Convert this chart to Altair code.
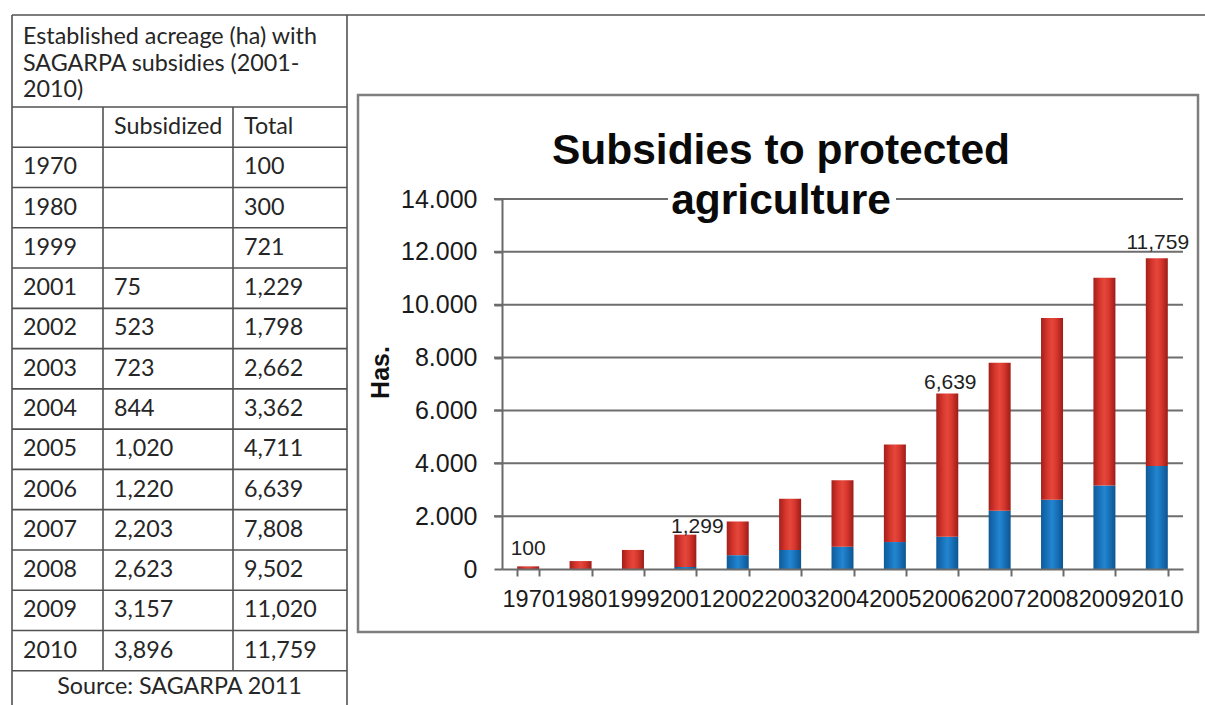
import altair as alt
import pandas as pd

# ---- data -------------------------------------------------------------
years = ["1970", "1980", "1999", "2001", "2002", "2003", "2004",
         "2005", "2006", "2007", "2008", "2009", "2010"]
subsidized = [None, None, None, 75, 523, 723, 844, 1020, 1220, 2203, 2623, 3157, 3896]
table_total = [100, 300, 721, 1229, 1798, 2662, 3362, 4711, 6639, 7808, 9502, 11020, 11759]
chart_total = [100, 300, 721, 1299, 1798, 2662, 3362, 4711, 6639, 7808, 9502, 11020, 11759]
labelled_years = ["1970", "2001", "2006", "2010"]
y_ticks = [0, 2000, 4000, 6000, 8000, 10000, 12000, 14000]

table_title = ["Established acreage (ha) with", "SAGARPA subsidies (2001-", "2010)"]
table_header = ["", "Subsidized", "Total"]
table_source = "Source: SAGARPA 2011"
chart_title = ["Subsidies to protected", "agriculture"]
y_title = "Has."

# ---- layout -----------------------------------------------------------
W, H = 1205, 705
FONT = "Liberation Sans"
TABLE_FONT = "Lato"
TABLE_SIZE = 23.3
INK = "#262626"
LINE = "#525252"

col_edges = [12, 103, 233, 347]           # table column boundaries
row_edges = [15, 107, 711]                # title cell top / header top / bottom of 15 rows
n_rows = 15                               # header + 13 years + source

plot_x = [502, 1183]
plot_y = [569, 199]

tx = alt.Scale(domain=[0, 1, 2, 3], range=col_edges, zero=False, nice=False)
ty = alt.Scale(domain=[0, 1, n_rows + 1], range=row_edges, zero=False, nice=False)
xs = alt.Scale(domain=years, range=plot_x, paddingInner=0.58, paddingOuter=0.29)
ys = alt.Scale(domain=[0, 14000], range=plot_y, zero=False, nice=False)

one = alt.Data(values=[{}])

# ---- table ------------------------------------------------------------
hl = pd.DataFrame({"b": list(range(1, n_rows + 1)), "c0": 0, "c1": 3})
table_h = alt.Chart(hl).mark_rule(color=LINE, strokeWidth=1.6).encode(
    x=alt.X("c0:Q", scale=tx, axis=None),
    x2="c1:Q",
    y=alt.Y("b:Q", scale=ty, axis=None),
)
table_top = alt.Chart(pd.DataFrame({"b": [0], "c0": [0]})).mark_rule(
    color=LINE, strokeWidth=1.6
).encode(
    x=alt.X("c0:Q", scale=tx, axis=None),
    x2=alt.value(W),
    y=alt.Y("b:Q", scale=ty, axis=None),
)
vl = pd.DataFrame({
    "c": [0, 3, 1, 2],
    "b0": [0, 0, 1, 1],
    "b1": [n_rows + 1, n_rows + 1, n_rows, n_rows],
})
table_v = alt.Chart(vl).mark_rule(color=LINE, strokeWidth=1.6).encode(
    x=alt.X("c:Q", scale=tx, axis=None),
    y=alt.Y("b0:Q", scale=ty, axis=None),
    y2="b1:Q",
)

cells = []
for c, txt in enumerate(table_header):
    if txt:
        cells.append({"col": c, "row": 1.5, "text": txt})
for i, yr in enumerate(years):
    r = i + 2.5
    cells.append({"col": 0, "row": r, "text": yr})
    if subsidized[i] is not None:
        cells.append({"col": 1, "row": r, "text": f"{subsidized[i]:,}"})
    cells.append({"col": 2, "row": r, "text": f"{table_total[i]:,}"})
table_text = alt.Chart(pd.DataFrame(cells)).mark_text(
    align="left", baseline="middle", dx=11, fontSize=TABLE_SIZE, font=TABLE_FONT, color=INK
).encode(
    x=alt.X("col:Q", scale=tx, axis=None),
    y=alt.Y("row:Q", scale=ty, axis=None),
    text="text:N",
)
title_cell = alt.Chart(pd.DataFrame({"col": [0], "row": [0]})).mark_text(
    align="left", baseline="alphabetic", dx=11, dy=29, fontSize=TABLE_SIZE, lineHeight=26.5,
    font=TABLE_FONT, color=INK, text=table_title,
).encode(
    x=alt.X("col:Q", scale=tx, axis=None),
    y=alt.Y("row:Q", scale=ty, axis=None),
)
source_cell = alt.Chart(pd.DataFrame({"row": [n_rows + 0.5], "t": [table_source]})).mark_text(
    align="center", baseline="middle", dy=-4, fontSize=TABLE_SIZE, font=TABLE_FONT, color=INK
).encode(
    x=alt.value((col_edges[0] + col_edges[-1]) / 2),
    y=alt.Y("row:Q", scale=ty, axis=None),
    text="t:N",
)

# ---- chart panel --------------------------------------------------------
panel = alt.Chart(one).mark_rect(
    fillOpacity=0, stroke="#7e7e7e", strokeWidth=2.5
).encode(
    x=alt.value(358), x2=alt.value(1198), y=alt.value(95), y2=alt.value(632)
)

grid = alt.Chart(pd.DataFrame({"v": y_ticks[1:]})).mark_rule(
    color="#6e6e6e", strokeWidth=2
).encode(
    x=alt.value(494), x2=alt.value(1183),
    y=alt.Y("v:Q", scale=ys, axis=None),
)

title_back = alt.Chart(one).mark_rect(color="white").encode(
    x=alt.value(668), x2=alt.value(896), y=alt.value(182), y2=alt.value(218)
)

bars = pd.DataFrame({
    "year": years,
    "base": 0,
    "sub": [s if s is not None else 0 for s in subsidized],
    "total": chart_total,
})

red_fill = alt.Gradient(
    gradient="linear", x1=0, x2=1, y1=0, y2=0,
    stops=[
        alt.GradientStop(color="#a31f1a", offset=0),
        alt.GradientStop(color="#d8372d", offset=0.3),
        alt.GradientStop(color="#e4473b", offset=0.5),
        alt.GradientStop(color="#d8372d", offset=0.7),
        alt.GradientStop(color="#9c1d18", offset=1),
    ],
)
blue_fill = alt.Gradient(
    gradient="linear", x1=0, x2=1, y1=0, y2=0,
    stops=[
        alt.GradientStop(color="#0e5a98", offset=0),
        alt.GradientStop(color="#1b78c2", offset=0.35),
        alt.GradientStop(color="#2386cf", offset=0.5),
        alt.GradientStop(color="#1b78c2", offset=0.65),
        alt.GradientStop(color="#0d5590", offset=1),
    ],
)

blue = alt.Chart(bars[bars["sub"] > 0]).mark_bar(fill=blue_fill).encode(
    x=alt.X("year:N", scale=xs, axis=None),
    y=alt.Y("base:Q", scale=ys, axis=None),
    y2="sub:Q",
)

red = alt.Chart(bars).mark_bar(fill=red_fill).encode(
    x=alt.X(
        "year:N", scale=xs, sort=years, title=None,
        axis=alt.Axis(
            orient="bottom", offset=-(H - plot_y[0]), labelAngle=0, labelFontSize=23.5,
            labelFont=FONT, labelColor="#1a1a1a", labelPadding=11, tickSize=7,
            labelOverlap=False, labelBound=False, labelFlush=False,
            tickBand="extent", domainColor="#6a6a6a", tickColor="#6a6a6a",
            domainWidth=2, tickWidth=2, grid=False, zindex=1,
        ),
    ),
    y=alt.Y(
        "sub:Q", scale=ys, title=y_title,
        axis=alt.Axis(
            orient="left", offset=-plot_x[0], values=y_ticks,
            labelExpr="replace(format(datum.value, ','), ',', '.')",
            labelFontSize=25, labelFont=FONT, labelColor="#1a1a1a", labelPadding=17,
            labelOverlap=False, labelBound=False, labelFlush=False,
            tickSize=8, domainColor="#6a6a6a", tickColor="#6a6a6a", domainWidth=2,
            tickWidth=2, grid=False, zindex=1,
            titleFont=FONT, titleFontSize=25, titleFontWeight="bold", titleColor="#111",
            titleAngle=270, titleAlign="center", titleBaseline="middle",
            titleX=380 - plot_x[0], titleY=372,
        ),
    ),
    y2="total:Q",
)

# value labels above selected bars, each nudged as in the original layout
label_offsets = {"1970": (0, -17), "2001": (12, -8), "2006": (3, -11), "2010": (1, -15)}
labels = []
for yr in labelled_years:
    dx, dy = label_offsets[yr]
    sub = bars[bars["year"] == yr].copy()
    sub["lab"] = sub["total"].map(lambda v: f"{v:,}")
    labels.append(
        alt.Chart(sub).mark_text(
            align="center", baseline="middle", dx=dx, dy=dy, fontSize=21,
            font=FONT, color="#1f1f1f",
        ).encode(
            x=alt.X("year:N", scale=xs, axis=None),
            y=alt.Y("total:Q", scale=ys, axis=None),
            text="lab:N",
        )
    )

title = alt.Chart(one).mark_text(
    align="center", baseline="alphabetic", fontSize=42.5, fontWeight="bold",
    lineHeight=50, font=FONT, color="#0a0a0a", text=chart_title,
).encode(x=alt.value(781), y=alt.value(164))

chart = alt.layer(
    panel, grid, title_back, blue, red, *labels, title,
    table_h, table_top, table_v, table_text, title_cell, source_cell,
).resolve_scale(
    x="independent", y="independent"
).properties(
    width=W, height=H, padding=0, background="white",
    autosize=alt.AutoSizeParams(type="none"),
).configure_view(strokeWidth=0)

chart.save("out.html", embed_options={"renderer": "svg", "actions": False})
